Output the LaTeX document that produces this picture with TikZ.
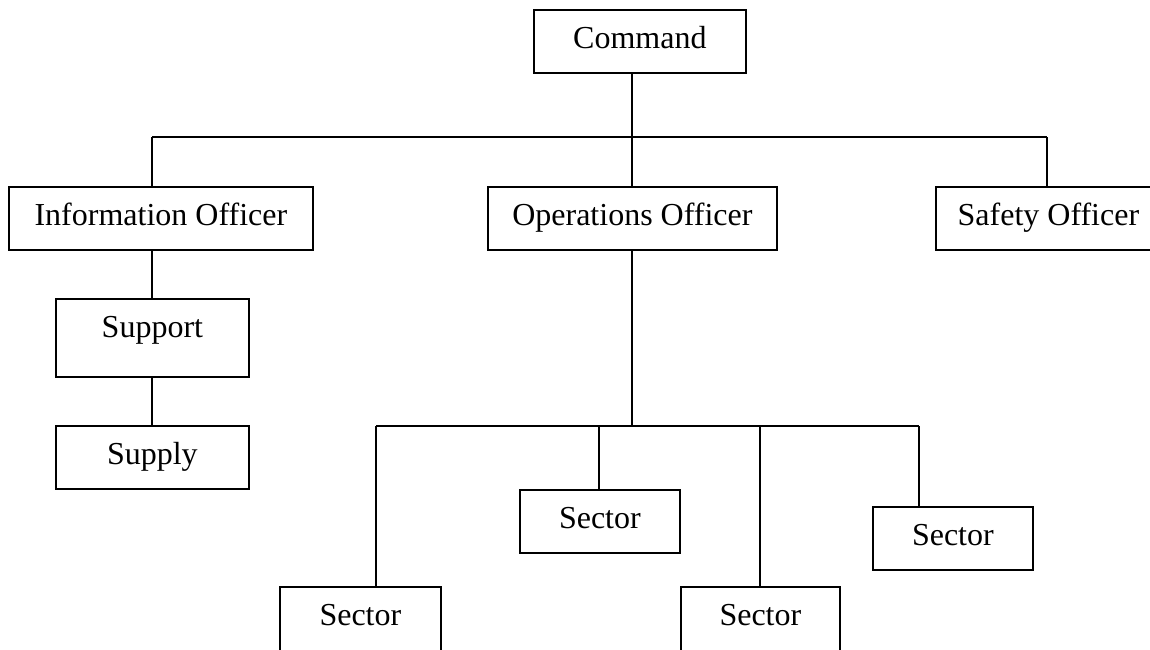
\documentclass[tikz,border=0pt]{standalone}
\usepackage{fontspec}
\setmainfont{Liberation Serif}
\begin{document}
\begin{tikzpicture}[x=1pt,y=-1pt,
  orgbox/.style={draw, line width=1.8pt, inner sep=0pt, anchor=north west,
    text height=39pt, text depth=24pt, font=\fontsize{32}{38}\selectfont},
  link/.style={line width=1.8pt}]
\useasboundingbox (0,0) rectangle (1150,649);
\clip (0,0) rectangle (1150,649);
% boxes
\node[orgbox, minimum width=212pt] (cmd) at (533,9) {Command};
\node[orgbox, minimum width=304pt] (info) at (8,186) {Information Officer};
\node[orgbox, minimum width=289pt] (ops) at (487,186) {Operations Officer};
\node[orgbox, minimum width=225pt] (safe) at (935,186) {Safety Officer};
\node[orgbox, minimum width=193pt, text depth=39pt] (sup) at (55,298) {Support};
\node[orgbox, minimum width=193pt] (supply) at (55,425) {Supply};
\node[orgbox, minimum width=161pt, text depth=40pt] (s1) at (279,586) {Sector};
\node[orgbox, minimum width=160pt] (s2) at (519,489) {Sector};
\node[orgbox, minimum width=159pt, text depth=40pt] (s3) at (680,586) {Sector};
\node[orgbox, minimum width=160pt] (s4) at (872,506) {Sector};
% junctions
\coordinate (j1) at (632,137);
\coordinate (jl) at (152,137);
\coordinate (jr) at (1047,137);
\coordinate (j2) at (632,426);
\coordinate (kl) at (376,426);
\coordinate (k2) at (599,426);
\coordinate (k3) at (760,426);
\coordinate (kr) at (919,426);
% connectors
\draw[link] (cmd.south -| j1) -- (j1);
\draw[link] (jl) -- (jr);
\draw[link] (jl) -- (jl |- info.north);
\draw[link] (j1) -- (j1 |- ops.north);
\draw[link] (jr) -- (jr |- safe.north);
\draw[link] (jl |- info.south) -- (jl |- sup.north);
\draw[link] (jl |- sup.south) -- (jl |- supply.north);
\draw[link] (j1 |- ops.south) -- (j2);
\draw[link] (kl) -- (kr);
\draw[link] (kl) -- (kl |- s1.north);
\draw[link] (k2) -- (k2 |- s2.north);
\draw[link] (k3) -- (k3 |- s3.north);
\draw[link] (kr) -- (kr |- s4.north);
\end{tikzpicture}
\end{document}
